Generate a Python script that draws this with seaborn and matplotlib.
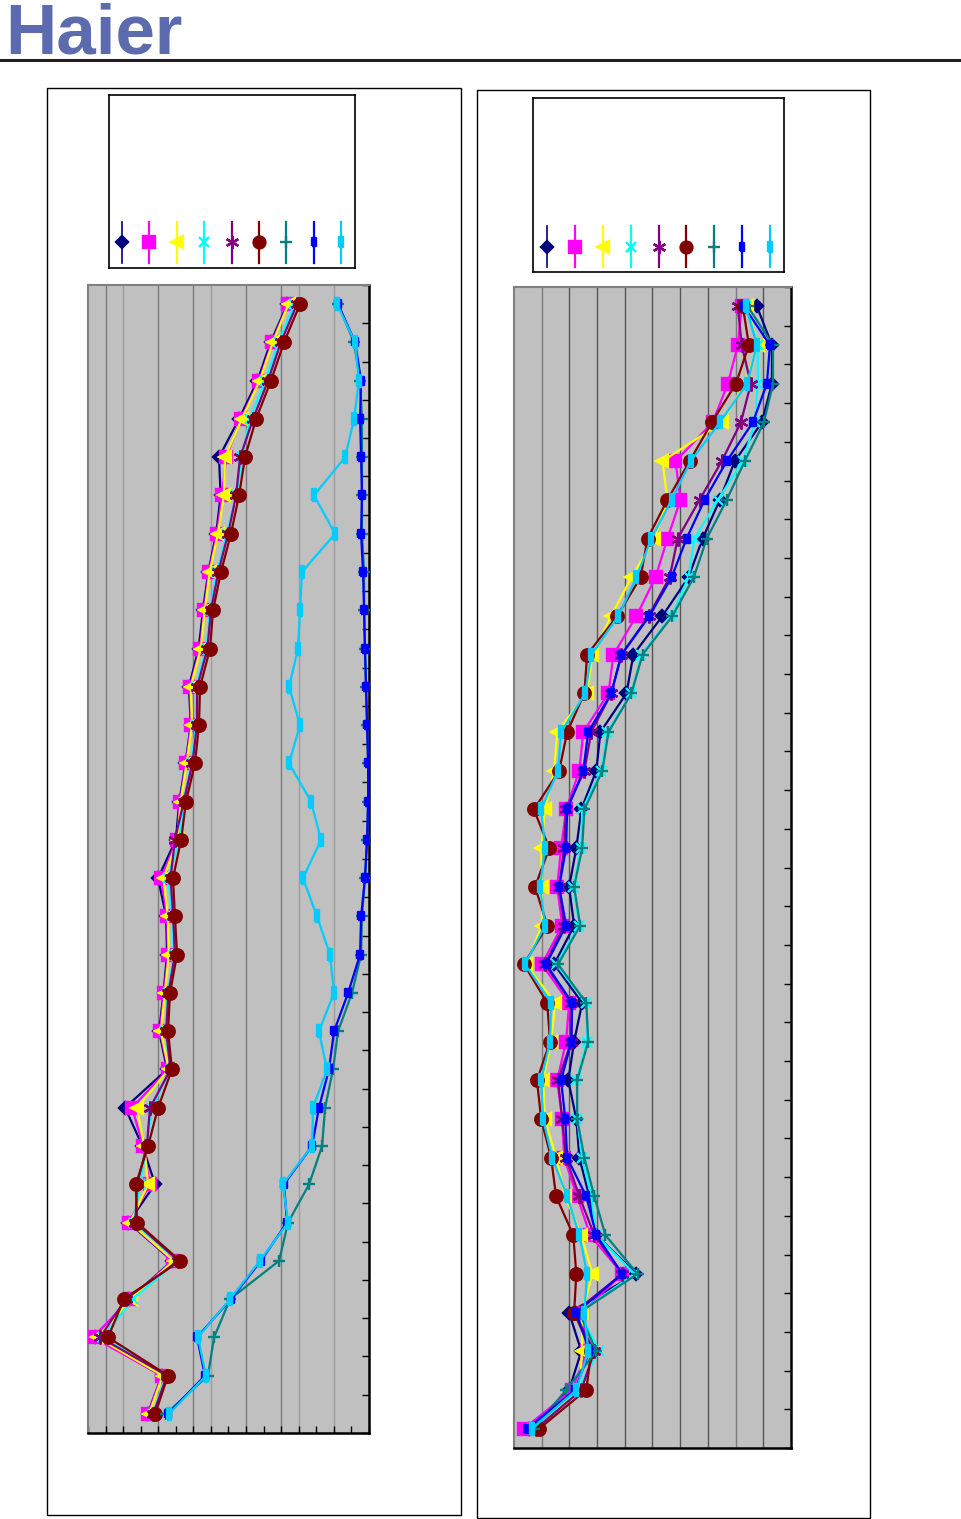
import numpy as np
import matplotlib
matplotlib.use("Agg")
import matplotlib.pyplot as plt
from matplotlib.patches import Rectangle
from matplotlib.lines import Line2D
import seaborn as sns

# --- data (30 rows, top to bottom) ---
rows = np.arange(30) + 0.5

series_names = ["s1", "s2", "s3", "s4", "s5", "s6", "s7", "s8", "s9"]
series_colors = ["#000080", "#FF00FF", "#FFFF00", "#00FFFF", "#800080",
                 "#800000", "#008080", "#0000FF", "#00CCFF"]

bar_small = [(-0.5, -0.8), (0.5, -0.8), (0.5, 0.8), (-0.5, 0.8), (-0.5, -0.8)]
bar_long = [(-0.3, -1), (0.3, -1), (0.3, 1), (-0.3, 1), (-0.3, -1)]
series_markers = ["D", "s", "<", "x", (6, 2, 0), "o", "+", bar_small, bar_long]
series_ms = [6.5, 8.5, 9, 7.5, 10, 9, 9, 6, 8]

# left chart
l_navy = [11.35, 10.40, 9.65, 8.60, 7.46, 7.55, 7.30, 6.85, 6.55, 6.30, 5.75, 5.85, 5.55, 5.20, 5.00,
          3.99, 4.45, 4.50, 4.30, 4.05, 4.50, 2.11, 3.10, 3.82, 2.30, 4.80, 2.35, 0.40, 4.20, 3.40]
l_magenta = [11.39, 10.48, 9.74, 8.71, 7.86, 7.63, 7.35, 6.89, 6.61, 6.38, 5.81, 5.87, 5.58, 5.24, 5.07,
             4.16, 4.50, 4.56, 4.33, 4.10, 4.56, 2.51, 3.13, 3.53, 2.33, 4.84, 2.39, 0.28, 4.21, 3.42]
l_yellow = [11.42, 10.52, 9.78, 8.76, 7.80, 7.74, 7.40, 6.93, 6.65, 6.42, 5.85, 5.92, 5.62, 5.28, 5.10,
            4.30, 4.55, 4.60, 4.38, 4.15, 4.60, 2.79, 3.20, 3.42, 2.40, 4.88, 2.45, 0.51, 4.25, 3.48]
l_cyan = [11.75, 10.85, 10.10, 9.20, 8.77, 8.45, 7.90, 7.35, 6.95, 6.75, 6.15, 6.15, 5.90, 5.45, 5.20,
          4.55, 4.80, 4.90, 4.55, 4.40, 4.70, 3.64, 3.35, 2.96, 2.60, 5.10, 2.56, 0.85, 4.45, 3.70]
l_purple = [11.90, 10.98, 10.25, 9.40, 8.66, 8.43, 7.98, 7.42, 7.00, 6.80, 6.22, 6.20, 5.95, 5.45, 4.95,
            4.70, 4.85, 4.95, 4.58, 4.45, 4.70, 3.53, 3.35, 2.79, 2.70, 5.15, 2.15, 0.68, 4.50, 3.72]
l_maroon = [12.07, 11.16, 10.42, 9.57, 8.94, 8.60, 8.14, 7.57, 7.12, 6.95, 6.38, 6.32, 6.09, 5.58, 5.30,
            4.84, 4.95, 5.07, 4.67, 4.56, 4.78, 3.99, 3.42, 2.73, 2.79, 5.24, 2.05, 1.14, 4.56, 3.82]
l_teal = [14.24, 15.15, 15.49, 15.60, 15.60, 15.60, 15.60, 15.72, 15.72, 15.77, 15.83, 15.89, 15.95, 15.95, 15.89,
          15.77, 15.60, 15.55, 15.03, 14.24, 13.95, 13.50, 13.33, 12.59, 11.39, 10.88, 8.09, 7.18, 6.83, 4.44]
l_blue = [14.24, 15.21, 15.55, 15.49, 15.55, 15.60, 15.55, 15.66, 15.72, 15.77, 15.83, 15.89, 15.95, 15.95, 15.89,
          15.77, 15.55, 15.49, 14.81, 14.01, 13.72, 13.15, 12.76, 11.16, 11.33, 9.85, 8.14, 6.21, 6.66, 4.56]
l_lightblue = [14.18, 15.21, 15.43, 15.15, 14.64, 12.87, 14.07, 12.19, 12.07, 11.96, 11.45, 12.07, 11.45, 12.70, 13.27,
               12.24, 13.04, 13.78, 14.01, 13.15, 13.61, 12.81, 12.76, 11.10, 11.39, 9.79, 8.09, 6.26, 6.72, 4.61]

# right chart
r_navy = [8.77, 9.31, 9.31, 8.95, 7.97, 7.43, 6.81, 6.30, 5.36, 4.31, 4.06, 3.12, 2.97, 2.43, 2.25,
          1.99, 2.17, 1.45, 2.46, 2.17, 1.96, 2.25, 2.36, 2.72, 2.97, 4.42, 1.99, 2.43, 1.99, 0.54]
r_magenta = [8.22, 8.08, 7.72, 7.17, 5.83, 6.01, 5.54, 5.11, 4.42, 3.59, 3.41, 2.50, 2.36, 1.88, 1.70,
             1.56, 1.74, 1.01, 1.99, 1.88, 1.56, 1.74, 1.81, 2.28, 2.75, 3.91, 2.46, 2.64, 2.10, 0.36]
r_yellow = [8.41, 8.80, 8.33, 7.50, 5.36, 5.54, 5.07, 4.24, 3.51, 2.83, 2.64, 1.56, 1.45, 1.12, 0.98,
            1.01, 1.01, 0.43, 1.49, 1.34, 1.05, 1.12, 1.52, 1.85, 2.43, 2.83, 2.46, 2.46, 2.36, 0.62]
r_cyan = [8.37, 8.80, 8.80, 8.70, 8.26, 7.36, 6.52, 6.30, 5.69, 4.60, 4.24, 3.37, 3.15, 2.46, 2.43,
          2.14, 2.36, 1.52, 2.61, 2.64, 2.25, 2.28, 2.46, 2.79, 2.97, 4.35, 2.36, 3.08, 2.28, 0.65]
r_purple = [8.08, 8.22, 8.55, 8.19, 7.50, 6.70, 5.91, 5.62, 4.86, 3.88, 3.51, 2.79, 2.54, 1.88, 1.81,
            1.63, 1.81, 1.12, 2.07, 2.07, 1.59, 1.74, 1.88, 2.36, 2.90, 3.91, 2.17, 2.90, 2.43, 0.80]
r_maroon = [8.26, 8.48, 8.01, 7.14, 6.34, 5.54, 4.82, 4.57, 3.73, 2.64, 2.54, 1.92, 1.63, 0.72, 1.27,
            0.76, 1.20, 0.36, 1.20, 1.30, 0.83, 0.98, 1.34, 1.52, 2.14, 2.25, 2.17, 2.79, 2.61, 0.91]
r_teal = [8.44, 9.35, 9.35, 9.02, 8.33, 7.68, 6.96, 6.49, 5.72, 4.64, 4.24, 3.41, 3.19, 2.54, 2.46,
          2.17, 2.39, 1.59, 2.61, 2.68, 2.28, 2.28, 2.54, 2.90, 3.30, 4.46, 2.36, 2.97, 1.88, 0.72]
r_blue = [8.30, 9.24, 9.13, 8.62, 7.68, 6.88, 6.23, 5.69, 4.89, 3.88, 3.51, 2.68, 2.50, 1.92, 1.88,
          1.63, 1.88, 1.16, 2.10, 2.07, 1.70, 1.85, 1.92, 2.61, 2.97, 3.91, 2.25, 2.72, 2.21, 0.47]
r_lightblue = [8.37, 8.77, 8.41, 7.43, 6.38, 5.69, 4.96, 4.42, 3.77, 2.79, 2.57, 1.70, 1.59, 0.98, 1.12,
               0.94, 1.12, 0.40, 1.34, 1.30, 0.98, 1.05, 1.38, 1.92, 2.36, 2.64, 2.54, 2.68, 2.25, 0.65]

left_series = [l_navy, l_magenta, l_yellow, l_cyan, l_purple, l_maroon, l_teal, l_blue, l_lightblue]
right_series = [r_navy, r_magenta, r_yellow, r_cyan, r_purple, r_maroon, r_teal, r_blue, r_lightblue]

W, H = 962, 1519
fig = plt.figure(figsize=(W / 100, H / 100), dpi=100)


def box(x0, y0, x1, y1):
    # pixel box (top-left origin) -> figure fraction rect
    return [x0 / W, 1 - y1 / H, (x1 - x0) / W, (y1 - y0) / H]


# logo + rule
fig.text(5 / W, 1 - 54 / H, "Haier", fontsize=51, fontweight="bold", color="#5C6BAD",
         family="Liberation Sans", va="baseline", ha="left")
fig.add_artist(Line2D([0, 1], [1 - 60 / H, 1 - 60 / H], color="#231F20", lw=2.2,
                      transform=fig.transFigure))

# outer frames
for fx0, fy0, fx1, fy1 in [(47, 88, 461, 1515), (477, 90, 870, 1518)]:
    r = box(fx0, fy0, fx1, fy1)
    fig.add_artist(Rectangle((r[0], r[1]), r[2], r[3], fill=False, edgecolor="black",
                             lw=1, transform=fig.transFigure))


def draw_panel(rect, series, xmax, grid_dark, grid_light, dark_col, light_col, xticks):
    ax = fig.add_axes(rect)
    ax.set_facecolor("#C0C0C0")
    for g in grid_dark:
        ax.axvline(g, color=dark_col, lw=1, zorder=0.5)
    for g in grid_light:
        ax.axvline(g, color=light_col, lw=1, zorder=0.5)
    for vals, c, m, ms in zip(series, series_colors, series_markers, series_ms):
        sns.lineplot(x=vals, y=rows, orient="y", sort=False, estimator=None, ax=ax,
                     color=c, lw=1.6, marker=m, markersize=ms, markeredgecolor=c,
                     markerfacecolor=c, markeredgewidth=1.7, zorder=3)
    ax.set_xlim(0, xmax)
    ax.set_ylim(30, 0)
    ax.set_xlabel("")
    ax.set_ylabel("")
    ax.set_yticks(range(31))
    ax.yaxis.tick_right()
    ax.tick_params(axis="y", direction="in", length=5, width=1, labelright=False,
                   right=True, left=False, color="black")
    if xticks:
        ax.set_xticks(range(xmax + 1))
        ax.tick_params(axis="x", direction="in", length=5, width=1, labelbottom=False)
    else:
        ax.set_xticks([])
    for s in ["top", "left"]:
        ax.spines[s].set_color("#808080")
        ax.spines[s].set_linewidth(1.5)
    for s in ["right", "bottom"]:
        ax.spines[s].set_color("black")
        ax.spines[s].set_linewidth(1.8)
    return ax


draw_panel(box(88, 285, 369, 1433), left_series, 16,
           [1, 4, 6, 9, 11], [2, 7, 12, 14], "#7A7A7A", "#9C9C9C", True)
draw_panel(box(514, 287, 791, 1448), right_series, 10,
           [2, 3, 4, 5, 6, 7, 9], [1, 8], "#555555", "#7A7A7A", False)


def draw_key(rect, x_first, step, y_lo, y_hi, y_mark):
    kx = fig.add_axes(rect)
    kx.set_xlim(0, 1)
    kx.set_ylim(0, 1)
    kx.set_xticks([])
    kx.set_yticks([])
    for s in kx.spines.values():
        s.set_color("black")
        s.set_linewidth(1.2)
    for i, (c, m, ms) in enumerate(zip(series_colors, series_markers, series_ms)):
        xi = x_first + step * i
        kx.plot([xi, xi], [y_lo, y_hi], color=c, lw=1.2 if i == 0 else 1.6)
        kx.plot([xi], [y_mark], color=c, marker=m, markersize=ms * 0.95,
                markeredgecolor=c, markeredgewidth=1.7, linestyle="none")


draw_key(box(109, 95, 355, 268), 0.053, 0.1114, 0.029, 0.266, 0.150)
draw_key(box(533, 98, 784, 272), 0.056, 0.111, 0.029, 0.264, 0.144)

fig.savefig("out.png", dpi=100, facecolor="white")
